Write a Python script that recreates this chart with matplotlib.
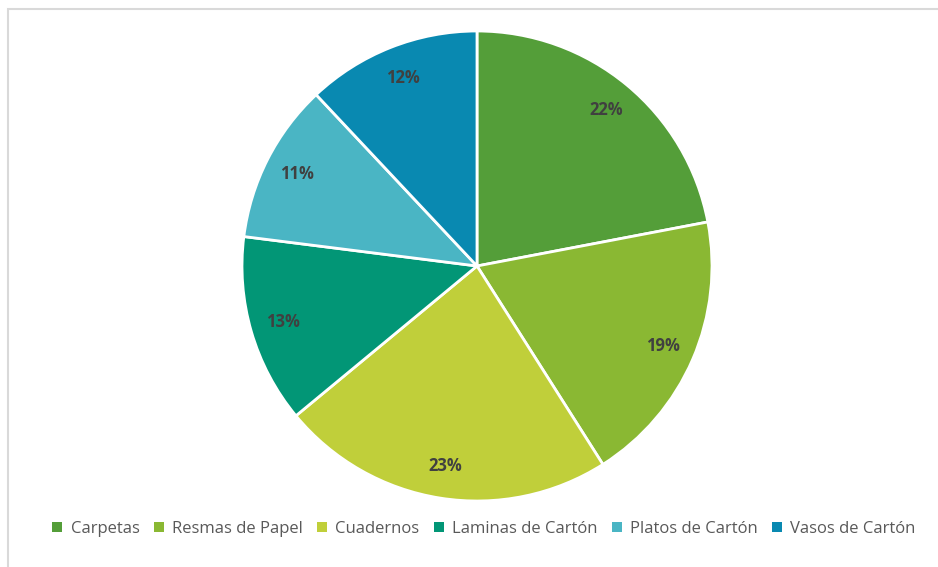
import matplotlib.pyplot as plt
from matplotlib.patches import Rectangle, Patch

plt.rcParams['font.family'] = ['Open Sans', 'DejaVu Sans']

productos = ['Carpetas', 'Resmas de Papel', 'Cuadernos', 'Laminas de Cartón',
             'Platos de Cartón', 'Vasos de Cartón']
porcentajes = [22, 19, 23, 13, 11, 12]
colores = ['#549E39', '#8AB833', '#C0CF3A', '#029676', '#4AB5C4', '#0989B1']

fig = plt.figure(figsize=(9.38, 5.67), dpi=100)

# light grey frame around the chart area
fig.patches.append(Rectangle((8 / 938, -0.1), 1.2, (567 - 9) / 567 + 0.1,
                             transform=fig.transFigure, fill=False,
                             edgecolor='#D9D9D9', linewidth=1.5))

ax = fig.add_axes([242 / 938, 66 / 567, 470 / 938, 470 / 567])
wedges, texts, autotexts = ax.pie(
    porcentajes, colors=colores, startangle=90, counterclock=False,
    autopct='%d%%', pctdistance=0.86, radius=1,
    wedgeprops=dict(edgecolor='white', linewidth=2),
    textprops=dict(color='#404040', fontsize=12, fontweight='bold'))
ax.set_xlim(-1, 1)
ax.set_ylim(-1, 1)
ax.set_aspect('equal')
ax.axis('off')

handles = [Patch(facecolor=c, edgecolor='none') for c in colores]
fig.legend(handles, productos, loc='center', bbox_to_anchor=(484 / 938, 1 - 529 / 567),
           ncol=6, frameon=False, fontsize=12, handlelength=0.6, handleheight=0.6,
           handletextpad=0.5, columnspacing=0.85, labelcolor='#595959')

fig.savefig('out.png', dpi=100)
